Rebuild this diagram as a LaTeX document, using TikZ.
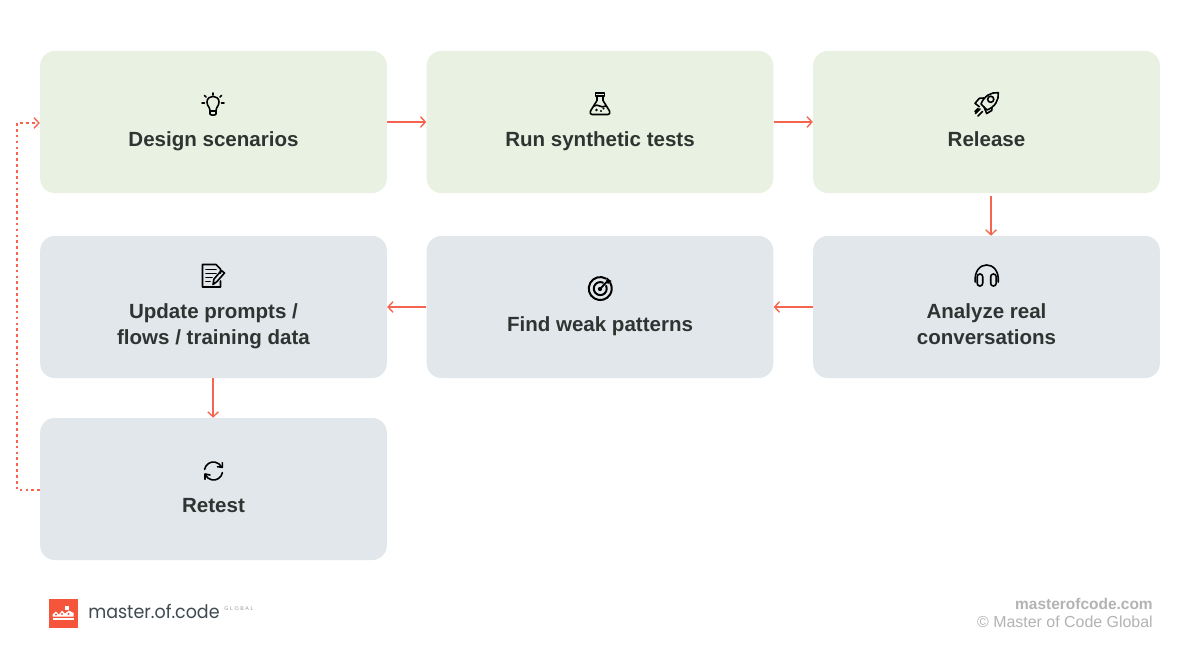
\documentclass[tikz,border=0pt]{standalone}
\usepackage{fontspec}
\setmainfont{Liberation Sans}
\newfontfamily\logofont{Poppins}
\usetikzlibrary{arrows.meta,calc}
\definecolor{cardgreen}{HTML}{E9F1E2}
\definecolor{cardgrey}{HTML}{E1E7EA}
\definecolor{flowred}{HTML}{F4644F}
\definecolor{inkdark}{HTML}{2F3432}
\definecolor{logored}{HTML}{F4553B}
\definecolor{logoink}{HTML}{3F4A50}
\definecolor{footgrey}{HTML}{B3B3B3}
\tikzset{
	card/.style={rounded corners=11pt,minimum width=260pt,minimum height=106.5pt,inner sep=0pt},
	cardlabel/.style={inner sep=0.75pt,align=center,text=inkdark,font=\fontsize{15.4}{19.5}\selectfont\bfseries},
	flow/.style={draw=flowred,line width=1pt,-{Straight Barb[length=3.8pt,width=8pt,line width=1pt]}},
	loopflow/.style={flow,dash pattern=on 2pt off 2.4pt},
	icon/.style={draw=black,line width=1.2pt,line cap=round,line join=round,fill=none},
	footlabel/.style={anchor=east,inner sep=0pt,text=footgrey}
}
\begin{document}
\begin{tikzpicture}[x=0.75pt,y=0.75pt,yscale=-1,xscale=1]
	\useasboundingbox (0,0) rectangle (1200,671);
	\fill[white] (0,0) rectangle (1200,671);

	% Cards
	\node[card,fill=cardgreen] (design) at (213.5,122) {};
	\node[card,fill=cardgreen] (synthetic) at (600,122) {};
	\node[card,fill=cardgreen] (release) at (986.5,122) {};
	\node[card,fill=cardgrey] (update) at (213.5,307) {};
	\node[card,fill=cardgrey] (weak) at (600,307) {};
	\node[card,fill=cardgrey] (analyze) at (986.5,307) {};
	\node[card,fill=cardgrey] (retest) at (213.5,489) {};

	% Text Node
	\node[cardlabel] (designlabel) at (213.5,141) {Design scenarios};
	\node[cardlabel] (syntheticlabel) at (600,141) {Run synthetic tests};
	\node[cardlabel] (releaselabel) at (986.5,139) {Release};
	\node[cardlabel] (updatelabel) at (213.5,326) {Update prompts /\\flows / training data};
	\node[cardlabel] (weaklabel) at (600,326) {Find weak patterns};
	\node[cardlabel] (analyzelabel) at (986.5,324) {Analyze real\\conversations};
	\node[cardlabel] (retestlabel) at (213.5,506) {Retest};

	% Connectors
	\draw[flow] (design.east) -- (synthetic.west);
	\draw[flow] (synthetic.east) -- (release.west);
	\draw[flow] ([shift={(3.4pt,2.2pt)}]release.south) -- ([xshift=3.4pt]analyze.north);
	\draw[flow] (analyze.west) -- (weak.east);
	\draw[flow] (weak.west) -- (update.east);
	\draw[flow] ([xshift=-0.3pt]update.south) -- ([xshift=-0.3pt]retest.north);
	\coordinate (loopbottom) at (17,490);
	\coordinate (looptop) at (17,123);
	\draw[loopflow] ([yshift=0.75pt]retest.west) -- (loopbottom) -- (looptop) -- ([yshift=0.75pt]design.west);

	%Shape: bulb
	\begin{scope}[shift={(213,104)}]
		\draw[icon] (-3,7) .. controls (-3,3) and (-6,2) .. (-6,-2) .. controls (-6,-9.5) and (6,-9.5) .. (6,-2) .. controls (6,2) and (3,3) .. (3,7) -- (3,10) .. controls (3,11.5) and (-3,11.5) .. (-3,10) -- cycle;
		\draw[icon] (-3,7) -- (3,7);
		\draw[icon] (0,-11) -- (0,-9) (-11,-1) -- (-8.5,-1) (8.5,-1) -- (11,-1) (-8.5,-8.5) -- (-7,-7) (8.5,-8.5) -- (7,-7);
	\end{scope}

	%Shape: flask
	\begin{scope}[shift={(600,104)}]
		\draw[icon] (-4.5,-11) -- (4.5,-11) -- (4.5,-8) -- (-4.5,-8) -- cycle;
		\draw[icon] (-3,-8) -- (-3,-3.5) -- (-9.5,7) .. controls (-10.5,9) and (-9.5,10.5) .. (-8,10.5) -- (8,10.5) .. controls (9.5,10.5) and (10.5,9) .. (9.5,7) -- (3,-3.5) -- (3,-8);
		\draw[icon] (-6,2) .. controls (-2,-1) and (1,5) .. (6,2);
		\fill (-3.5,6) circle (1pt) (1,7) circle (0.9pt) (3.5,4.5) circle (0.9pt);
	\end{scope}

	%Shape: rocket
	\begin{scope}[shift={(986,104)}]
		\draw[icon] (12.3,-11.3) .. controls (5,-12) and (-2,-8) .. (-5,0) -- (1,6) .. controls (9,3) and (13,-4) .. (12.3,-11.3) -- cycle;
		\draw[icon] (4.7,-4.7) circle (2.3pt);
		\draw[icon] (-2.5,-6) -- (-6.7,-5.7) -- (-11,-0.7) -- (-6.7,2.7);
		\draw[icon] (6,4.5) -- (5.7,6.5) -- (0.7,9.5) -- (-2,3);
		\draw[icon] (-6,5) -- (-10.5,9.5) (-3.5,7.5) -- (-8,12) (-8,4.5) -- (-11,7.5);
	\end{scope}

	%Shape: note and pencil
	\begin{scope}[shift={(213,276)}]
		\draw[icon] (7.5,-3) -- (7.5,-7) -- (3,-11.5) -- (-10.5,-11.5) -- (-10.5,11) -- (7.5,11) -- (7.5,5);
		\draw[icon] (-7,-6.5) -- (3,-6.5) (-7,-2.5) -- (3,-2.5) (-7,1.5) -- (-1,1.5) (-7,5.5) -- (-3,5.5);
		\draw[icon] (0,8.5) -- (1,3) -- (8.5,-5.5) -- (11.5,-3) -- (4,5.5) -- cycle;
	\end{scope}

	%Shape: target
	\begin{scope}[shift={(600,289)}]
		\draw[icon,line width=1.5pt] (6,-10.4) arc[start angle=-60,end angle=-390,radius=11.5];
		\draw[icon,line width=1.5pt] (3,-6.3) arc[start angle=-65,end angle=-385,radius=6.5];
		\fill (0,0) circle (1.6pt);
		\draw[icon,line width=1.4pt] (0,0) -- (8,-8.5);
		\fill (6,-7) -- (7,-11.5) -- (9,-9.5) -- (11.5,-8) -- (8,-5) -- cycle;
	\end{scope}

	%Shape: headphones
	\begin{scope}[shift={(986.7,277)}]
		\draw[icon] (-11.5,5) .. controls (-13.5,-17.7) and (13.5,-17.7) .. (11.5,5);
		\draw[icon,rounded corners=2pt] (-9.5,-3) rectangle (-4,9);
		\draw[icon,rounded corners=2pt] (4,-3) rectangle (9.5,9);
	\end{scope}

	%Shape: refresh
	\begin{scope}[shift={(213.5,471)}]
		\draw[icon] (-8.9,-1.6) arc[start angle=190,end angle=335,radius=9];
		\draw[icon] (8.9,1.6) arc[start angle=10,end angle=155,radius=9];
		\draw[icon] (8.8,-8.4) -- (8.8,-3.7) -- (4,-4.3);
		\draw[icon] (-8.5,8.3) -- (-8.5,3) -- (-3.5,4);
	\end{scope}

	%Shape: logo
	\fill[logored] (49,598.5) rectangle (77.5,627.5);
	\fill[white] (53,617.5) rectangle (73.5,620);
	\fill[white] (52.5,616.5) -- (52.5,614.5) -- (56,611.5) -- (59,614.5) -- (62,610.5) -- (65,613.5) -- (69,610.5) -- (73.5,613) -- (73.5,616.5) -- cycle;
	\fill[white] (64.5,605.5) rectangle (69,610);
	\fill[logored] (56,614.5) circle (0.8pt) (62,614) circle (0.8pt) (68.5,614) circle (0.8pt);

	% Text Node
	\node[anchor=west,inner sep=0pt,text=logoink,font=\logofont\fontsize{14}{17}\selectfont] (logoname) at (88,611.5) {\scalebox{0.936}[1]{master.of.code}};
	\node[anchor=west,inner sep=0pt,text=logoink!55,font=\fontsize{4}{5}\selectfont] (logoglobal) at (224,609) {G\hspace{1.2pt}L\hspace{1.2pt}O\hspace{1.2pt}B\hspace{1.2pt}A\hspace{1.2pt}L};
	\node[footlabel,font=\fontsize{11.6}{14}\selectfont\bfseries] (footsite) at (1153,604) {masterofcode.com};
	\node[footlabel,font=\fontsize{11.95}{14}\selectfont] (footcopy) at (1153,622) {© Master of Code Global};
\end{tikzpicture}
\end{document}
